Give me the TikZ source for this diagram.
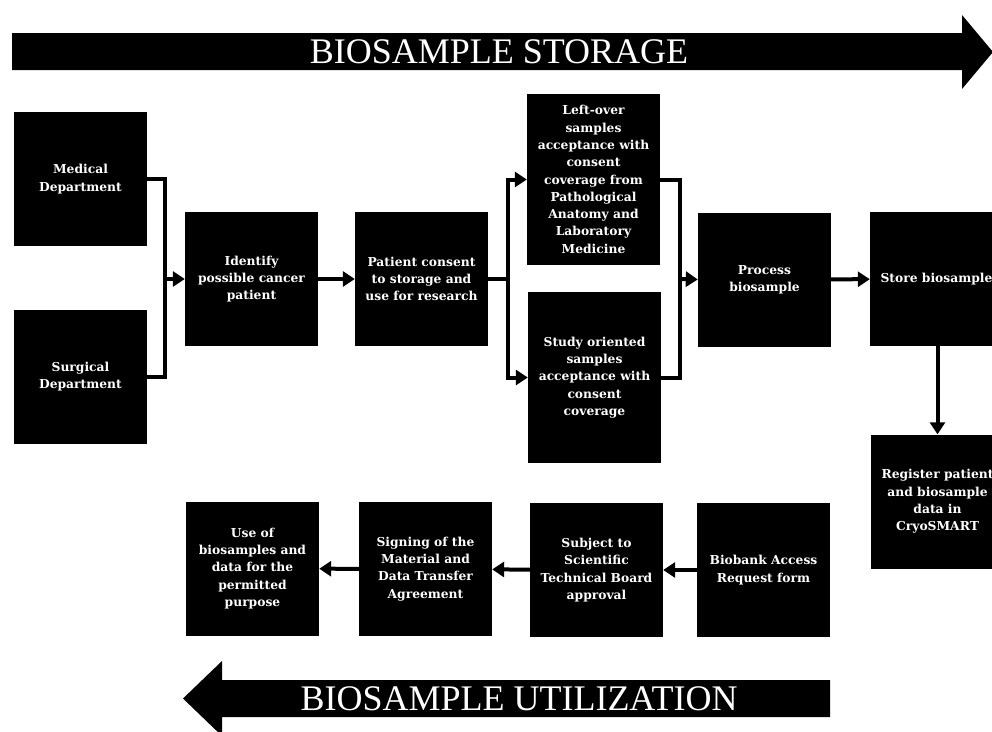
\documentclass[tikz,border=0pt]{standalone}
\usepackage{fontspec}
\setmainfont{Liberation Serif}
\newfontfamily\boxfont{DejaVu Serif}
\usetikzlibrary{arrows.meta}

\tikzset{
  stepbox/.style={fill=black, text=white, minimum width=133pt, minimum height=134pt,
    inner sep=0pt, align=center, font=\boxfont\bfseries\fontsize{12.3}{17.3}\selectfont},
  flow/.style={line width=4pt, -{Triangle[length=12pt,width=15pt]}},
  link/.style={line width=4pt},
  banner/.style={text=white, font=\fontsize{36}{40}\selectfont}
}

\begin{document}
\begin{tikzpicture}[x=1pt, y=-1pt]
      \clip (0,0) rectangle (992,731);
      \fill[white] (0,0) rectangle (992,731);
      % banners
      \fill (12,33) -- (962,33) -- (962,15) -- (993,52) -- (962,89) -- (962,70) -- (12,70) -- cycle;
      \node[banner] (storage) at (499,52) {BIOSAMPLE STORAGE};
      \fill (830,680) -- (222,680) -- (222,661) -- (183,698.5) -- (222,736) -- (222,717) -- (830,717) -- cycle;
      \node[banner] (utilization) at (519,698.5) {BIOSAMPLE UTILIZATION};
      % storage boxes
      \node[stepbox] (med) at (80.5,179) {Medical\\Department};
      \node[stepbox] (surg) at (80.5,376.5) {Surgical\\Department};
      \node[stepbox] (ident) at (251.5,279) {Identify\\possible cancer\\patient};
      \node[stepbox] (consent) at (421.5,279) {Patient consent\\to storage and\\use for research};
      \node[stepbox, minimum height=171pt] (leftover) at (593.5,179.5) {Left-over\\samples\\acceptance with\\consent\\coverage from\\Pathological\\Anatomy and\\Laboratory\\Medicine};
      \node[stepbox, minimum height=171pt] (study) at (594.5,377.5) {Study oriented\\samples\\acceptance with\\consent\\coverage};
      \node[stepbox] (process) at (764.5,279.5) {Process\\biosample};
      \node[stepbox] (store) at (936.5,279) {Store biosample};
      \node[stepbox] (register) at (937.5,501.5) {Register patient\\and biosample\\data in\\CryoSMART};
      % utilization boxes
      \node[stepbox] (access) at (763.5,570) {Biobank Access\\Request form};
      \node[stepbox] (board) at (596.5,570) {Subject to\\Scientific\\Technical Board\\approval};
      \node[stepbox] (signing) at (425.5,569) {Signing of the\\Material and\\Data Transfer\\Agreement};
      \node[stepbox] (use) at (252.5,568.5) {Use of\\biosamples and\\data for the\\permitted\\purpose};
      % connectors
      \coordinate (j1) at (165,279);
      \coordinate (j2) at (508,279);
      \coordinate (j3) at (680,279);
      \draw[link] (med.east) -| (j1);
      \draw[link] (surg.east) -| (j1);
      \draw[flow] (j1) -- (ident.west);
      \draw[flow] (ident) -- (consent);
      \draw[link] (consent.east) -- (j2);
      \draw[flow] (j2) |- (leftover.west);
      \draw[flow] (j2) |- (study.west);
      \draw[link] (leftover.east) -| (j3);
      \draw[link] (study.east) -| (j3);
      \draw[flow] (j3) -- (process.west);
      \draw[flow] (process) -- (store);
      \draw[flow] (store.south -| register) -- (register);
      \draw[flow] (access) -- (board);
      \draw[flow] (board) -- (signing);
      \draw[flow] (signing) -- (use);
    \end{tikzpicture}
\end{document}
